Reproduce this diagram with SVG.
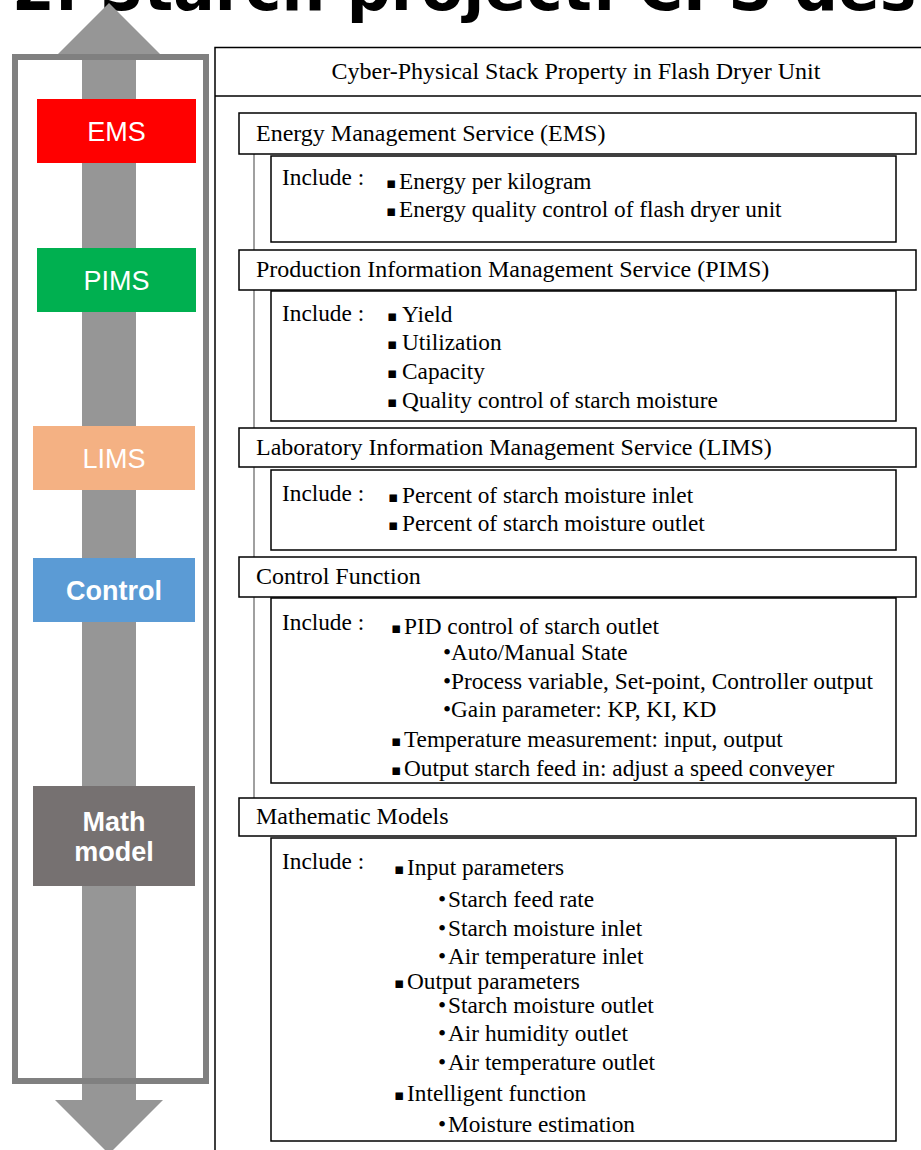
<svg xmlns="http://www.w3.org/2000/svg" width="921" height="1150" viewBox="0 0 921 1150">
  <style>
    .title { font-family: "DejaVu Sans", "Liberation Sans", sans-serif; font-weight: bold; font-size: 61.5px; fill: #000; }
    .tag { font-family: "Liberation Sans", Arial, sans-serif; font-size: 27px; fill: #fff; text-anchor: middle; }
    .tagb { font-weight: bold; }
    .hd { font-family: "Liberation Serif", "Times New Roman", serif; font-size: 24px; fill: #000; }
    .tx { font-family: "Liberation Serif", "Times New Roman", serif; font-size: 23.3px; fill: #000; }
    .sq { font-family: "DejaVu Sans", sans-serif; font-size: 15px; fill: #000; }
    .box { fill: #fff; stroke: #000; stroke-width: 1.5; }
    .link { stroke: #808080; stroke-width: 1.5; fill: none; }
  </style>

  <rect width="921" height="1150" fill="#fff"/>

  <!-- slide heading, clipped by the top edge -->
  <text class="title" x="12" y="10">2. Starch project: CPS des</text>

  <!-- vertical two-way arrow with frame -->
  <g id="stack-arrow">
    <polygon points="109,3 160,54 136,54 136,1100 163,1100 109,1154 55,1100 82,1100 82,54 58,54" fill="#969696"/>
    <rect x="15" y="57" width="191" height="1024" fill="none" stroke="#808080" stroke-width="6"/>
  </g>

  <!-- layer tags -->
  <g id="tag-ems">
    <rect x="37" y="99" width="159" height="64" fill="#ff0000"/>
    <text class="tag" x="116.5" y="141">EMS</text>
  </g>
  <g id="tag-pims">
    <rect x="37" y="248" width="159" height="64" fill="#00b050"/>
    <text class="tag" x="116.5" y="290">PIMS</text>
  </g>
  <g id="tag-lims">
    <rect x="33" y="426" width="162" height="64" fill="#f4b183"/>
    <text class="tag" x="114" y="468">LIMS</text>
  </g>
  <g id="tag-control">
    <rect x="33" y="558" width="162" height="64" fill="#5b9bd5"/>
    <text class="tag tagb" x="114" y="600">Control</text>
  </g>
  <g id="tag-math">
    <rect x="33" y="786" width="162" height="100" fill="#767171"/>
    <text class="tag tagb" x="114" y="831">Math</text>
    <text class="tag tagb" x="114" y="861">model</text>
  </g>

  <!-- property panel -->
  <g id="panel">
    <rect x="215" y="47.5" width="720" height="1120" fill="#fff" stroke="#000" stroke-width="1.5"/>
    <line x1="215" y1="96" x2="921" y2="96" stroke="#000" stroke-width="1.5"/>
    <text class="hd" x="576" y="79" text-anchor="middle" font-size="24.6">Cyber-Physical Stack Property in Flash Dryer Unit</text>
  </g>

  <!-- connectors -->
  <g id="connectors">
    <line class="link" x1="254" y1="154" x2="254" y2="798"/>
  </g>

  <!-- EMS -->
  <g id="sec-ems">
    <rect class="box" x="239" y="113" width="677" height="41"/>
    <text class="hd" x="256" y="141">Energy Management Service (EMS)</text>
    <rect class="box" x="271" y="156" width="625" height="86"/>
    <text class="tx" x="282" y="185">Include :</text>
    <text class="sq" x="386" y="188">▪</text><text class="tx" x="399" y="189">Energy per kilogram</text>
    <text class="sq" x="386" y="216">▪</text><text class="tx" x="399" y="217">Energy quality control of flash dryer unit</text>
  </g>

  <!-- PIMS -->
  <g id="sec-pims">
    <rect class="box" x="239" y="250" width="677" height="40"/>
    <text class="hd" x="256" y="277">Production Information Management Service (PIMS)</text>
    <rect class="box" x="271" y="291" width="625" height="130"/>
    <text class="tx" x="282" y="321">Include :</text>
    <text class="sq" x="387" y="321">▪</text><text class="tx" x="402" y="322">Yield</text>
    <text class="sq" x="387" y="349">▪</text><text class="tx" x="402" y="350">Utilization</text>
    <text class="sq" x="387" y="378">▪</text><text class="tx" x="402" y="379">Capacity</text>
    <text class="sq" x="387" y="407">▪</text><text class="tx" x="402" y="408">Quality control of starch moisture</text>
  </g>

  <!-- LIMS -->
  <g id="sec-lims">
    <rect class="box" x="239" y="428" width="677" height="39"/>
    <text class="hd" x="256" y="455">Laboratory Information  Management Service (LIMS)</text>
    <rect class="box" x="271" y="470" width="625" height="80"/>
    <text class="tx" x="282" y="501">Include :</text>
    <text class="sq" x="388" y="502">▪</text><text class="tx" x="402" y="503">Percent of starch moisture inlet</text>
    <text class="sq" x="388" y="530">▪</text><text class="tx" x="402" y="531">Percent of starch moisture outlet</text>
  </g>

  <!-- Control -->
  <g id="sec-control">
    <rect class="box" x="239" y="557" width="677" height="40"/>
    <text class="hd" x="256" y="584">Control Function</text>
    <rect class="box" x="271" y="598" width="625" height="185"/>
    <text class="tx" x="282" y="630">Include :</text>
    <text class="sq" x="391" y="633">▪</text><text class="tx" x="404" y="634">PID control of starch outlet</text>
    <text class="tx" x="443" y="660">•</text><text class="tx" x="451" y="660">Auto/Manual State</text>
    <text class="tx" x="443" y="689">•</text><text class="tx" x="451" y="689">Process variable, Set-point, Controller output</text>
    <text class="tx" x="443" y="717">•</text><text class="tx" x="451" y="717">Gain parameter: KP, KI, KD</text>
    <text class="sq" x="391" y="746">▪</text><text class="tx" x="404" y="747">Temperature measurement: input, output</text>
    <text class="sq" x="391" y="775">▪</text><text class="tx" x="404" y="776">Output starch feed in: adjust a speed conveyer</text>
  </g>

  <!-- Mathematic models -->
  <g id="sec-math">
    <rect class="box" x="239" y="798" width="677" height="38"/>
    <text class="hd" x="256" y="824">Mathematic Models</text>
    <rect class="box" x="271" y="838" width="625" height="303"/>
    <text class="tx" x="282" y="869">Include :</text>
    <text class="sq" x="394" y="874">▪</text><text class="tx" x="407" y="875">Input parameters</text>
    <text class="tx" x="438" y="907">•</text><text class="tx" x="448" y="907">Starch feed rate</text>
    <text class="tx" x="438" y="936">•</text><text class="tx" x="448" y="936">Starch moisture inlet</text>
    <text class="tx" x="438" y="964">•</text><text class="tx" x="448" y="964">Air temperature inlet</text>
    <text class="sq" x="394" y="988">▪</text><text class="tx" x="407" y="989">Output parameters</text>
    <text class="tx" x="438" y="1013">•</text><text class="tx" x="448" y="1013">Starch moisture outlet</text>
    <text class="tx" x="438" y="1041">•</text><text class="tx" x="448" y="1041">Air humidity outlet</text>
    <text class="tx" x="438" y="1070">•</text><text class="tx" x="448" y="1070">Air temperature outlet</text>
    <text class="sq" x="394" y="1100">▪</text><text class="tx" x="407" y="1101">Intelligent function</text>
    <text class="tx" x="438" y="1132">•</text><text class="tx" x="448" y="1132">Moisture estimation</text>
  </g>
</svg>
